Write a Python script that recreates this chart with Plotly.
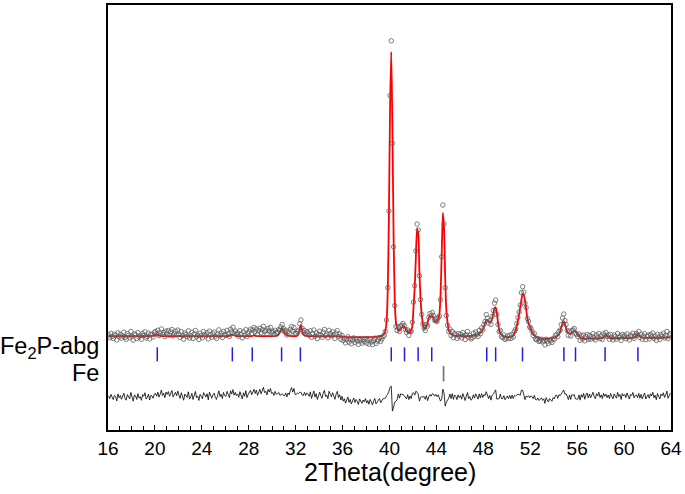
import numpy as np
import plotly.graph_objects as go

# ---- scan grid (2theta, degrees) ----
scan_start = 16.05
scan_step = 0.1

# ---- observed intensities (one row per degree, 16.x ... 63.x) ----
y_obs = [
    655, 628, 671, 640, 618, 662, 649, 605, 676, 637,   # 16
    660, 622, 645, 683, 631, 612, 668, 650, 626, 690,   # 17
    641, 603, 664, 657, 620, 678, 633, 648, 611, 669,   # 18
    652, 687, 624, 640, 673, 615, 661, 658, 635, 680,   # 19
    690, 665, 702, 648, 676, 715, 660, 681, 638, 694,   # 20
    671, 699, 652, 686, 710, 645, 668, 692, 657, 704,   # 21
    663, 630, 688, 648, 612, 675, 659, 640, 697, 624,   # 22
    646, 681, 619, 665, 700, 638, 654, 610, 672, 650,   # 23
    627, 689, 660, 644, 678, 616, 693, 655, 632, 667,   # 24
    684, 641, 620, 662, 706, 648, 673, 629, 690, 658,   # 25
    650, 701, 668, 640, 712, 685, 731, 672, 695, 660,   # 26
    676, 642, 698, 663, 625, 687, 652, 708, 639, 670,   # 27
    690, 712, 668, 705, 730, 684, 715, 661, 698, 722,   # 28
    676, 709, 741, 688, 702, 665, 720, 694, 731, 680,   # 29
    690, 661, 702, 675, 684, 708, 700, 735, 760, 718,   # 30
    688, 702, 655, 690, 671, 712, 740, 695, 730, 672,   # 31
    670, 690, 702, 768, 805, 722, 681, 700, 662, 688,   # 32
    675, 651, 696, 630, 668, 705, 642, 677, 618, 660,   # 33
    692, 655, 631, 684, 710, 648, 663, 626, 701, 670,   # 34
    645, 687, 658, 620, 673, 699, 637, 665, 612, 650,   # 35
    598, 620, 575, 607, 636, 582, 612, 566, 603, 625,   # 36
    580, 611, 592, 560, 617, 596, 572, 605, 588, 620,   # 37
    574, 600, 563, 611, 585, 557, 598, 622, 570, 593,   # 38
    605, 628, 590, 615, 640, 652, 690, 805, 1130, 1900,  # 39
    3060, 3610, 2580, 1540, 950, 740, 700, 735, 690, 745,  # 40
    752, 770, 748, 712, 680, 705, 650, 690, 690, 783,   # 41
    985, 1150, 1500, 1770, 1710, 1250, 1010, 860, 765, 725,  # 42
    700, 760, 745, 830, 870, 850, 880, 850, 800, 818,   # 43
    790, 828, 845, 1010, 1440, 1960, 1770, 1130, 850, 752,  # 44
    690, 712, 650, 690, 628, 670, 655, 620, 668, 640,   # 45
    662, 625, 680, 648, 610, 655, 690, 630, 650, 615,   # 46
    630, 672, 641, 685, 660, 640, 700, 668, 725, 705,   # 47
    760, 790, 860, 822, 775, 800, 760, 840, 900, 975,   # 48
    1005, 860, 760, 690, 700, 640, 630, 655, 610, 622,  # 49
    645, 618, 652, 620, 660, 635, 690, 712, 770, 830,   # 50
    885, 955, 1080, 1140, 1085, 975, 930, 820, 790, 735,  # 51
    722, 690, 650, 668, 615, 605, 620, 590, 598, 612,   # 52
    585, 600, 555, 612, 590, 570, 605, 596, 580, 620,   # 53
    610, 650, 660, 638, 690, 705, 760, 825, 865, 800,   # 54
    760, 700, 650, 690, 645, 700, 705, 720, 675, 660,   # 55
    640, 665, 600, 648, 615, 655, 596, 638, 660, 610,   # 56
    650, 612, 640, 668, 625, 605, 655, 632, 670, 618,   # 57
    645, 610, 668, 650, 680, 640, 655, 612, 660, 630,   # 58
    605, 655, 638, 612, 670, 628, 648, 600, 660, 635,   # 59
    650, 618, 666, 632, 605, 652, 640, 672, 620, 648,   # 60
    670, 655, 690, 630, 660, 612, 645, 668, 608, 640,   # 61
    652, 615, 660, 638, 675, 620, 645, 600, 662, 634,   # 62
    610, 658, 640, 672, 625, 650, 690, 618, 655, 670,   # 63
]

# ---- calculated (fitted) intensities on the same grid ----
y_calc = [
    643, 643, 643, 643, 643, 643, 643, 643, 643, 643,   # 16
    643, 643, 643, 643, 643, 643, 643, 643, 643, 643,   # 17
    643, 643, 643, 643, 643, 643, 643, 643, 643, 643,   # 18
    643, 643, 643, 643, 643, 643, 644, 645, 646, 648,   # 19
    652, 655, 652, 648, 645, 644, 643, 643, 643, 643,   # 20
    643, 643, 643, 643, 643, 643, 643, 643, 643, 643,   # 21
    643, 643, 643, 643, 643, 643, 643, 643, 643, 643,   # 22
    643, 643, 643, 643, 643, 643, 643, 643, 643, 643,   # 23
    643, 643, 643, 643, 643, 643, 643, 643, 643, 643,   # 24
    643, 643, 643, 643, 643, 643, 643, 643, 643, 643,   # 25
    643, 643, 644, 645, 648, 653, 655, 652, 647, 644,   # 26
    643, 643, 643, 643, 643, 643, 643, 643, 643, 643,   # 27
    643, 643, 644, 647, 650, 647, 644, 643, 643, 643,   # 28
    643, 643, 643, 643, 643, 643, 643, 643, 643, 643,   # 29
    643, 643, 644, 646, 650, 660, 680, 712, 725, 700,   # 30
    675, 660, 652, 648, 646, 645, 644, 644, 643, 643,   # 31
    644, 648, 665, 720, 755, 700, 665, 652, 647, 645,   # 32
    644, 643, 643, 643, 643, 643, 642, 642, 642, 642,   # 33
    642, 642, 642, 642, 642, 642, 642, 642, 642, 642,   # 34
    642, 642, 642, 642, 641, 641, 641, 641, 640, 640,   # 35
    638, 636, 635, 634, 634, 634, 634, 634, 634, 634,   # 36
    634, 634, 634, 634, 634, 634, 634, 634, 634, 634,   # 37
    634, 634, 634, 634, 634, 634, 635, 636, 637, 638,   # 38
    641, 642, 645, 648, 655, 668, 700, 790, 1100, 1840,  # 39
    2960, 3500, 2720, 1640, 1000, 780, 725, 703, 700, 712,  # 40
    728, 740, 738, 720, 698, 680, 674, 678, 705, 745,   # 41
    940, 1130, 1440, 1720, 1680, 1290, 1010, 855, 765, 718,  # 42
    722, 745, 780, 825, 845, 840, 845, 820, 790, 790,   # 43
    785, 805, 860, 1050, 1460, 1880, 1730, 1220, 900, 780,  # 44
    700, 680, 665, 655, 650, 648, 646, 645, 645, 645,   # 45
    645, 645, 645, 644, 644, 644, 644, 644, 645, 646,   # 46
    647, 648, 650, 652, 655, 660, 667, 677, 690, 708,   # 47
    735, 775, 805, 805, 790, 782, 790, 820, 870, 925,   # 48
    932, 880, 780, 705, 670, 655, 645, 640, 636, 634,   # 49
    633, 633, 634, 636, 640, 648, 672, 700, 745, 800,   # 50
    860, 935, 1010, 1070, 1060, 1000, 920, 820, 775, 740,  # 51
    710, 685, 665, 650, 640, 633, 628, 624, 620, 618,   # 52
    617, 617, 617, 617, 618, 618, 619, 620, 622, 625,   # 53
    628, 633, 640, 650, 665, 690, 730, 775, 793, 770,   # 54
    725, 690, 675, 668, 668, 675, 688, 693, 692, 680,   # 55
    660, 643, 630, 622, 618, 617, 617, 617, 618, 618,   # 56
    618, 618, 619, 619, 619, 620, 620, 620, 621, 621,   # 57
    622, 624, 630, 642, 650, 645, 633, 626, 623, 622,   # 58
    622, 622, 622, 622, 622, 622, 622, 623, 623, 623,   # 59
    623, 623, 624, 624, 624, 624, 624, 625, 627, 632,   # 60
    648, 660, 652, 640, 632, 628, 627, 626, 626, 626,   # 61
    626, 626, 626, 626, 626, 626, 626, 626, 626, 626,   # 62
    627, 627, 627, 628, 628, 628, 629, 629, 630, 630,   # 63
]

# ---- Bragg reflection positions ----
fe2p_reflections = [20.2, 26.6, 28.3, 30.8, 32.4, 40.15, 41.28, 42.44, 43.6,
                    48.29, 49.05, 51.34, 54.87, 55.86, 58.38, 61.18]
fe_reflections = [44.61]

# vertical placement (intensity units) of the tick rows and the difference curve
fe2p_row = 460
fe_row = 265
diff_offset = 30

x_ticks = list(range(16, 65, 4))
phase_labels = ["Fe<sub>2</sub>P-abg", "Fe"]

# ---- derived ----
two_theta = np.round(scan_start + scan_step * np.arange(len(y_obs)), 2)
obs = np.array(y_obs, dtype=float)
calc = np.array(y_calc, dtype=float)
diff = obs - calc + diff_offset

FONT = "Liberation Sans, Arial, sans-serif"

fig = go.Figure()
fig.add_trace(go.Scatter(x=two_theta, y=calc, mode="lines",
                         line=dict(color="#ff0000", width=1.8, shape="spline", smoothing=0.6),
                         hoverinfo="skip"))
fig.add_trace(go.Scatter(x=two_theta, y=obs, mode="markers",
                         marker=dict(symbol="circle-open", size=4.5, color="#606060",
                                     line=dict(width=0.8, color="#606060"))))
fig.add_trace(go.Scatter(x=two_theta, y=diff, mode="lines",
                         line=dict(color="black", width=0.8)))
fig.add_trace(go.Scatter(x=fe2p_reflections, y=[fe2p_row] * len(fe2p_reflections),
                         mode="markers",
                         marker=dict(symbol="line-ns", size=10,
                                     line=dict(color="#1f1fe6", width=1.5))))
fig.add_trace(go.Scatter(x=fe_reflections, y=[fe_row] * len(fe_reflections),
                         mode="markers",
                         marker=dict(symbol="line-ns", size=11,
                                     line=dict(color="#7a7a7a", width=1.8))))

plot_left, plot_right, plot_top, plot_bottom = 108, 674, 3, 430
W, H = 685, 494
pw = plot_right - plot_left
ph = plot_bottom - plot_top

fig.update_layout(
    width=W, height=H,
    margin=dict(l=plot_left, r=W - plot_right, t=plot_top, b=H - plot_bottom, pad=0),
    paper_bgcolor="white", plot_bgcolor="white",
    showlegend=False,
    font=dict(family=FONT, color="black"),
    xaxis=dict(range=[16, 64], tickvals=x_ticks, ticks="inside", ticklen=5,
               tickwidth=1, tickcolor="black",
               minor=dict(dtick=1, tick0=16, ticks="inside", ticklen=4, tickcolor="black", tickwidth=1),
               showline=True, mirror=True, linecolor="black", linewidth=1.5,
               showgrid=False, zeroline=False,
               tickfont=dict(family=FONT, size=19, color="black")),
    yaxis=dict(range=[-300, 3970], showticklabels=False, ticks="",
               showline=True, mirror=True, linecolor="black", linewidth=1.5,
               showgrid=False, zeroline=False),
)

fig.add_annotation(text="2Theta(degree)", xref="paper", yref="paper",
                   x=0.5, y=(plot_bottom - 472) / ph, xanchor="center", yanchor="middle",
                   showarrow=False, font=dict(family=FONT, size=25, color="black"))
for lbl, yv in zip(phase_labels, [fe2p_row + 70, fe_row + 5]):
    fig.add_annotation(text=lbl, xref="paper", yref="y",
                       x=(101 - plot_left) / pw, y=yv, xanchor="right", yanchor="middle",
                       showarrow=False, font=dict(family=FONT, size=23.5, color="black"))

fig.write_html("out.html", config={"displayModeBar": False},
               post_script="document.body.style.margin='0px';document.body.style.padding='0px';")
